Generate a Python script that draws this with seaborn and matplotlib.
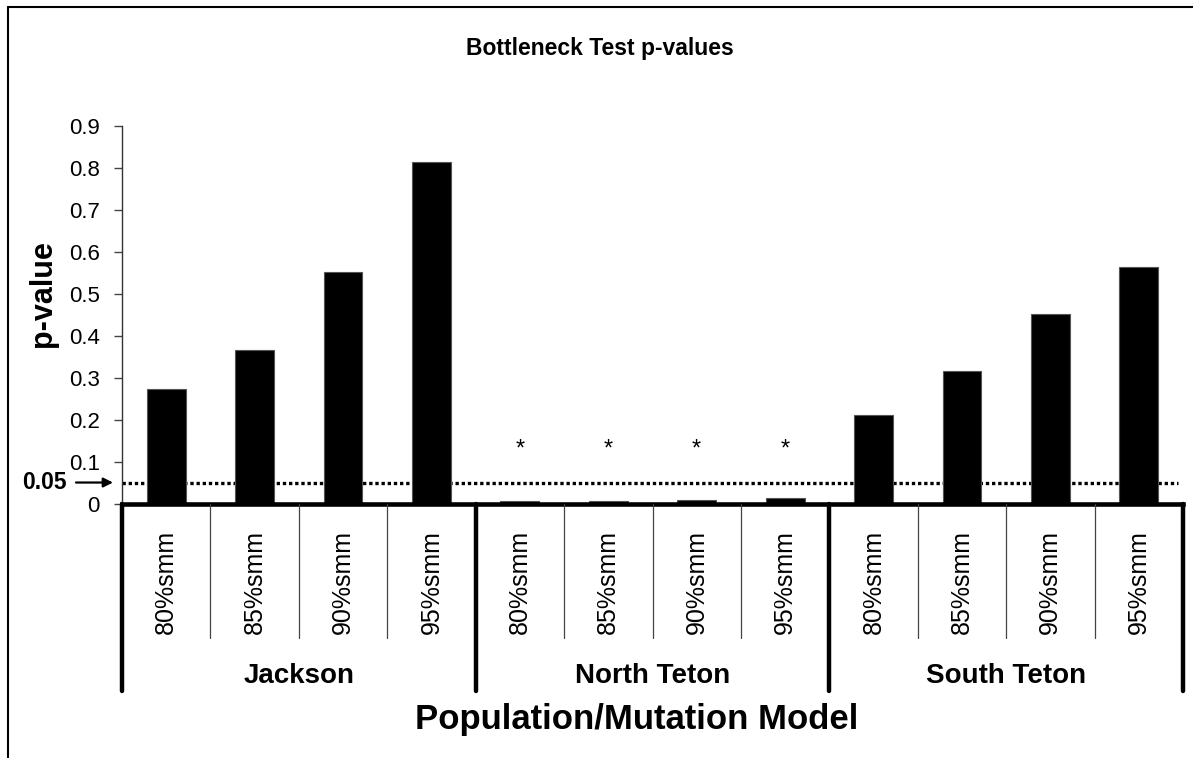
import matplotlib
matplotlib.use("Agg")
import matplotlib.pyplot as plt
import matplotlib.lines as mlines
import seaborn as sns
import pandas as pd

# Data
populations = ["Jackson", "North Teton", "South Teton"]
models = ["80%smm", "85%smm", "90%smm", "95%smm"]
jackson_p = [0.273, 0.367, 0.551, 0.815]
north_teton_p = [0.006, 0.006, 0.009, 0.013]
south_teton_p = [0.212, 0.317, 0.451, 0.565]
significant = [False, False, False, False, True, True, True, True,
               False, False, False, False]
alpha_level = 0.05
y_ticks = [0, 0.1, 0.2, 0.3, 0.4, 0.5, 0.6, 0.7, 0.8, 0.9]

values = jackson_p + north_teton_p + south_teton_p
df = pd.DataFrame({
    "population": [p for p in populations for _ in models],
    "model": models * len(populations),
    "p": values,
})
df["key"] = df["population"] + " " + df["model"]

sns.set_style("white")
plt.rcParams["font.family"] = ["Liberation Sans", "DejaVu Sans"]
plt.rcParams["text.color"] = "black"
plt.rcParams["axes.labelcolor"] = "black"
plt.rcParams["xtick.color"] = "black"
plt.rcParams["ytick.color"] = "black"

fig = plt.figure(figsize=(11.93, 7.58), dpi=100)
ax = fig.add_axes([122 / 1193, 1 - 503.5 / 758, (1183 - 122) / 1193, (503.5 - 126) / 758])

sns.barplot(data=df, x="key", y="p", color="black", width=0.44,
            edgecolor="#555555", linewidth=0.8, saturation=1, ax=ax, zorder=3)

ax.set_xlim(-0.5, len(df) - 0.5)
ax.set_ylim(0, 0.9)
ax.set_yticks(y_ticks)
ax.set_yticklabels([("%g" % t) for t in y_ticks], fontsize=16)
ax.tick_params(axis="y", left=True, length=6, width=1, color="#444444",
               labelcolor="black", pad=10, direction="out")
ax.set_xticks(range(len(df)))
ax.set_xticklabels(df["model"], rotation=90, fontsize=18, va="top")
ax.tick_params(axis="x", bottom=False, length=0, pad=19, labelcolor="black")
ax.set_xlabel("")
ax.set_ylabel("")

for side in ["top", "right"]:
    ax.spines[side].set_visible(False)
ax.spines["left"].set_linewidth(1.0)
ax.spines["left"].set_color("#333333")
ax.spines["bottom"].set_linewidth(3.3)
ax.spines["bottom"].set_color("black")
ax.spines["bottom"].set_zorder(4)

# Significance threshold
ax.axhline(alpha_level, xmin=0, xmax=0.995, color="black", lw=2.4,
           ls=(0, (1, 0.85)), zorder=1)

# Asterisks over significant results
for i, sig in enumerate(significant):
    if sig:
        ax.text(i, 0.128, "*", ha="center", va="center", fontsize=17,
                color="black")

# Separators below the axis
trans = ax.get_xaxis_transform()
n_models = len(models)
for i in range(len(df) + 1):
    xpos = i - 0.5
    if i % n_models == 0:
        ax.add_line(mlines.Line2D([xpos, xpos], [0, -0.496], transform=trans,
                                  color="black", lw=3.2, clip_on=False, zorder=5))
    else:
        ax.add_line(mlines.Line2D([xpos, xpos], [0, -0.355], transform=trans,
                                  color="#444444", lw=0.9, clip_on=False, zorder=5))

# Population group labels
for g, pop in enumerate(populations):
    center = g * n_models + (n_models - 1) / 2
    ax.text(center, -0.456, pop, transform=trans, ha="center", va="center",
            fontsize=20, fontweight="bold", color="black")

# Threshold marker on the left
ax.annotate("", xy=(113 / 1193, alpha_level), xytext=(76 / 1193, alpha_level),
            xycoords=("figure fraction", "data"),
            textcoords=("figure fraction", "data"),
            arrowprops=dict(arrowstyle="-|>", color="black", lw=1.6,
                            mutation_scale=14, shrinkA=0, shrinkB=0),
            annotation_clip=False)
ax.annotate("%.2f" % alpha_level, xy=(44 / 1193, alpha_level),
            xycoords=("figure fraction", "data"), ha="center", va="center",
            fontsize=16.5, fontweight="bold", color="black",
            annotation_clip=False)

# Titles
fig.text(600 / 1193, 1 - 49 / 758, "Bottleneck Test p-values", ha="center",
         va="center", fontsize=16.5, fontweight="bold", color="black")
fig.text(43 / 1193, 1 - 294 / 758, "p-value", ha="center", va="center",
         rotation=90, fontsize=22, fontweight="bold", color="black")
fig.text(637 / 1193, 1 - 719 / 758, "Population/Mutation Model", ha="center",
         va="center", fontsize=25, fontweight="bold", color="black")

# Outer frame (top and left edges)
fig.add_artist(mlines.Line2D([8 / 1193, 1], [1 - 7 / 758, 1 - 7 / 758],
                             transform=fig.transFigure, color="black", lw=1.5))
fig.add_artist(mlines.Line2D([8 / 1193, 8 / 1193], [0, 1 - 7 / 758],
                             transform=fig.transFigure, color="black", lw=1.5))

fig.savefig("out.png", dpi=100, facecolor="white")
